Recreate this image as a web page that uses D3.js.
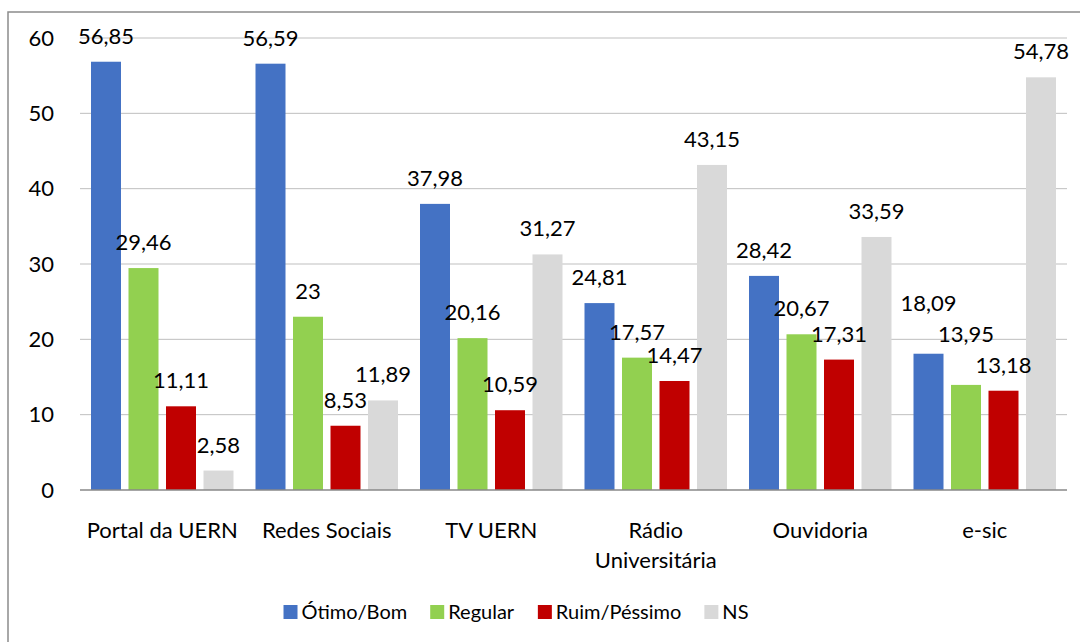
<!DOCTYPE html>
<html>
<head>
<meta charset="utf-8">
<script src="https://cdn.jsdelivr.net/npm/d3@7"></script>
<style>
  body { margin: 0; background: #fff; }
  svg { display: block; font-family: Lato, "Open Sans", sans-serif; }
</style>
</head>
<body>
<div class="chart"></div>
<script>
// data
var categories = ["Portal da UERN", "Redes Sociais", "TV UERN", "Rádio Universitária", "Ouvidoria", "e-sic"];
var categoryLines = [["Portal da UERN"], ["Redes Sociais"], ["TV UERN"], ["Rádio", "Universitária"], ["Ouvidoria"], ["e-sic"]];
var seriesNames = ["Ótimo/Bom", "Regular", "Ruim/Péssimo", "NS"];
var seriesColors = ["#4472c4", "#92d050", "#c00000", "#d9d9d9"];
var otimoBom = [56.85, 56.59, 37.98, 24.81, 28.42, 18.09];
var regular = [29.46, 23, 20.16, 17.57, 20.67, 13.95];
var ruimPessimo = [11.11, 8.53, 10.59, 14.47, 17.31, 13.18];
var ns = [2.58, 11.89, 31.27, 43.15, 33.59, 54.78];
var yTicks = [0, 10, 20, 30, 40, 50, 60];

var seriesValues = [otimoBom, regular, ruimPessimo, ns];

var W = 1080, H = 642;
var plotLeft = 80, plotRight = 1067, plotTop = 38, plotBottom = 490;
var fontSize = 22;

var svg = d3.select(".chart").append("svg")
  .attr("width", W)
  .attr("height", H);

// outer chart border (right/bottom edges fall outside the picture)
svg.append("rect")
  .attr("x", 8).attr("y", 12)
  .attr("width", W + 20).attr("height", H + 20)
  .attr("fill", "none")
  .attr("stroke", "#8c8c8c")
  .attr("stroke-width", 1.5);

var x0 = d3.scaleBand().domain(categories).range([plotLeft, plotRight]).padding(0);
var groupPad = 11;
var x1 = d3.scaleBand().domain(seriesNames)
  .range([groupPad, x0.bandwidth() - groupPad])
  .paddingInner(0.2).paddingOuter(0);
var y = d3.scaleLinear().domain([0, 60]).range([plotBottom, plotTop]);

// gridlines
svg.append("g").selectAll("line")
  .data(yTicks.filter(function(d) { return d > 0; }))
  .enter().append("line")
  .attr("x1", plotLeft).attr("x2", plotRight)
  .attr("y1", function(d) { return y(d); })
  .attr("y2", function(d) { return y(d); })
  .attr("stroke", "#bfbfbf")
  .attr("stroke-width", 1);

// y tick labels
svg.append("g").selectAll("text")
  .data(yTicks)
  .enter().append("text")
  .attr("x", 54)
  .attr("y", function(d) { return y(d); })
  .attr("dy", "0.35em")
  .attr("text-anchor", "end")
  .attr("font-size", fontSize)
  .attr("fill", "#000")
  .text(function(d) { return d; });

// bars
var groups = svg.append("g").selectAll("g")
  .data(categories)
  .enter().append("g")
  .attr("transform", function(d) { return "translate(" + x0(d) + ",0)"; });

var fmt = function(v) { return String(v).replace(".", ","); };

groups.each(function(cat, ci) {
  var g = d3.select(this);
  var rows = seriesNames.map(function(s, si) {
    return { s: s, v: seriesValues[si][ci], c: seriesColors[si] };
  });
  g.selectAll("rect").data(rows).enter().append("rect")
    .attr("x", function(d) { return x1(d.s); })
    .attr("y", function(d) { return y(d.v); })
    .attr("width", x1.bandwidth())
    .attr("height", function(d) { return y(0) - y(d.v); })
    .attr("fill", function(d) { return d.c; });
  var labels = g.selectAll("text").data(rows).enter().append("text")
    .attr("x", function(d) { return x1(d.s) + x1.bandwidth() / 2; })
    .attr("y", function(d) { return y(d.v) - 18; })
    .attr("text-anchor", "middle")
    .attr("font-size", fontSize)
    .attr("fill", "#000")
    .text(function(d) { return fmt(d.v); });

  // push clashing labels upward, like the spreadsheet does
  var boxes = [];
  labels.each(function(d) {
    var b = this.getBBox();
    boxes.push({ el: this, x0: b.x, x1: b.x + b.width, y: y(d.v) - 18 });
  });
  boxes.sort(function(a, b) { return b.y - a.y; });
  var placed = [];
  boxes.forEach(function(b) {
    placed.forEach(function(p) {
      var hOverlap = b.x0 < p.x1 && b.x1 > p.x0;
      if (hOverlap && Math.abs(p.y - b.y) < 20) b.y = p.y - 31;
    });
    d3.select(b.el).attr("y", b.y);
    placed.push(b);
  });
});

// x axis line
svg.append("line")
  .attr("x1", plotLeft).attr("x2", plotRight)
  .attr("y1", y(0)).attr("y2", y(0))
  .attr("stroke", "#898989")
  .attr("stroke-width", 1.5);

// category labels
var catText = svg.append("g").selectAll("text")
  .data(categories)
  .enter().append("text")
  .attr("x", function(d) { return x0(d) + x0.bandwidth() / 2; })
  .attr("y", 538)
  .attr("text-anchor", "middle")
  .attr("font-size", fontSize)
  .attr("fill", "#000");

catText.each(function(d, i) {
  var t = d3.select(this);
  categoryLines[i].forEach(function(line, li) {
    t.append("tspan")
      .attr("x", x0(d) + x0.bandwidth() / 2)
      .attr("dy", li === 0 ? 0 : 30)
      .text(line);
  });
});

// legend
var legend = svg.append("g");
var items = legend.selectAll("g")
  .data(seriesNames)
  .enter().append("g");
items.append("rect")
  .attr("width", 14).attr("height", 14)
  .attr("y", -14)
  .attr("fill", function(d, i) { return seriesColors[i]; });
items.append("text")
  .attr("x", 18)
  .attr("font-size", 20)
  .attr("fill", "#000")
  .text(function(d) { return d; });

var pos = 0;
items.each(function() {
  var w = this.getBBox().width;
  d3.select(this).attr("transform", "translate(" + pos + ",0)");
  pos += w + 23;
});
var total = pos - 23;
legend.attr("transform", "translate(" + (516 - total / 2) + ",619)");
</script>
</body>
</html>
